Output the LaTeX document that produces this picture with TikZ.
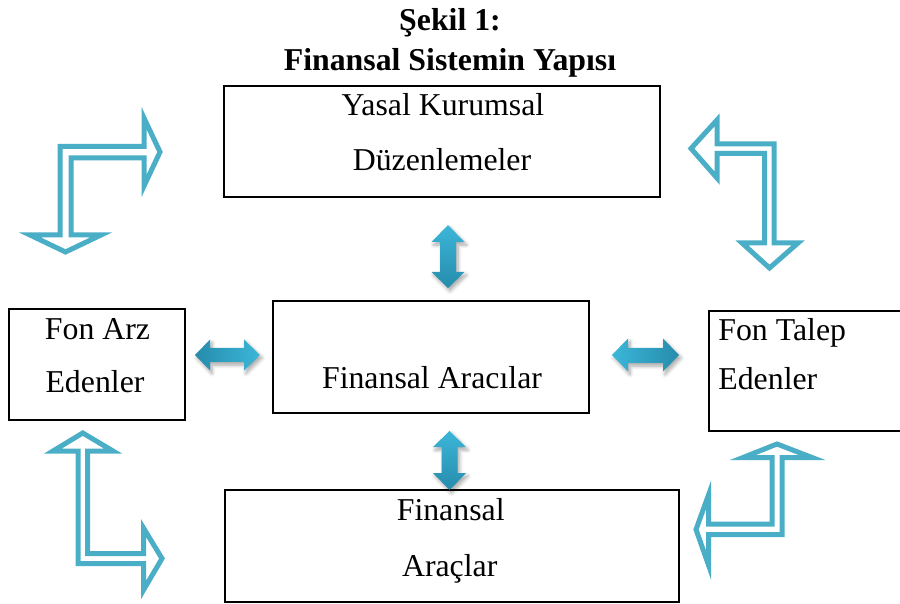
\documentclass[tikz,border=0pt]{standalone}
\usepackage{fontspec}
\setmainfont{Liberation Serif}
\usetikzlibrary{shadows.blur}
\definecolor{bentc}{RGB}{75,174,199}
\definecolor{lightc}{RGB}{60,182,216}
\definecolor{darkc}{RGB}{38,140,172}
\begin{document}
\begin{tikzpicture}[x=0.5pt,y=-0.5pt,
  box/.style={draw=black, line width=1pt, inner sep=0pt, outer sep=0pt},
  lbl/.style={font=\fontsize{15.9}{19}\selectfont, anchor=base, inner sep=0pt},
  ttl/.style={font=\fontsize{15.9}{19}\selectfont\bfseries, anchor=base, inner sep=0pt},
  bent/.style={draw=bentc, line width=2.5pt, line join=miter, fill=white},
  dbl/.style={blur shadow={shadow xshift=1pt, shadow yshift=-1.5pt, shadow blur steps=6, shadow opacity=35}},
]
\useasboundingbox (0,0) rectangle (900,604);

% boxes
\node[box, minimum width=218pt, minimum height=55.5pt] (kurum) at (442,141.5) {};
\node[box, minimum width=88pt, minimum height=55.5pt] (arz) at (97,364.5) {};
\node[box, minimum width=158pt, minimum height=56pt] (araci) at (431,357) {};
\node[box, minimum width=98pt, minimum height=60pt] (talep) at (807,371) {};
\node[box, minimum width=227pt, minimum height=56pt] (arac) at (452,546) {};

% texts
\node[ttl] (t1) at (450,31) {Şekil 1:};
\node[ttl] (t2) at (450,71) {Finansal Sistemin Yapısı};
\node[lbl] (k1) at (443,116) {Yasal Kurumsal};
\node[lbl] (k2) at (442,171) {Düzenlemeler};
\node[lbl] (l1) at (97.5,340) {Fon Arz};
\node[lbl] (l2) at (95,393) {Edenler};
\node[lbl] (c1) at (432,388) {Finansal Aracılar};
\node[lbl, anchor=base west] (r1) at (718,341) {Fon Talep};
\node[lbl, anchor=base west] (r2) at (718,390) {Edenler};
\node[lbl] (b1) at (450.7,520) {Finansal};
\node[lbl] (b2) at (449.7,576) {Araçlar};

% double arrows
\shade[dbl, left color=darkc, right color=lightc] (195,355) -- (210,339.5) -- (210,348) -- (244,348) -- (244,339.5) -- (260,355) -- (244,370.5) -- (244,362) -- (210,362) -- (210,370.5) -- cycle;
\shade[dbl, left color=lightc, right color=darkc] (612,355) -- (628,338.5) -- (628,348) -- (663,348) -- (663,338.5) -- (679,355) -- (663,371.5) -- (663,363) -- (628,363) -- (628,371.5) -- cycle;
\shade[dbl, top color=lightc, bottom color=darkc] (448,225) -- (464.5,242) -- (456,242) -- (456,272) -- (464.5,272) -- (448,288) -- (431.5,272) -- (440,272) -- (440,242) -- (431.5,242) -- cycle;
\shade[dbl, top color=lightc, bottom color=darkc] (449.5,431) -- (466,447) -- (457.5,447) -- (457.5,473) -- (466,473) -- (449.5,490) -- (433,473) -- (441.5,473) -- (441.5,447) -- (433,447) -- cycle;

% bent arrows
\draw[bent] (60,146.5) -- (144,146.5) -- (144,118) -- (160,152) -- (144,186) -- (144,158) -- (71,158) -- (71,235) -- (101,235) -- (65.5,252) -- (30,235) -- (60,235) -- cycle;
\draw[bent] (774,144) -- (717,144) -- (717,120) -- (691,148.5) -- (717,178) -- (717,153.5) -- (764.5,153.5) -- (764.5,243) -- (742,243) -- (769.5,268) -- (798,243) -- (774,243) -- cycle;
\draw[bent] (78,563.5) -- (78,451) -- (53,451) -- (82.75,433) -- (113,451) -- (87.5,451) -- (87.5,553.5) -- (143.5,553.5) -- (143.5,528) -- (162,558.5) -- (143.5,590) -- (143.5,563.5) -- cycle;
\draw[bent] (782,534.5) -- (708.5,534.5) -- (708.5,565) -- (696,529.5) -- (708.5,495) -- (708.5,524) -- (772,524) -- (772,457.5) -- (743,457.5) -- (777,444) -- (812,457.5) -- (782,457.5) -- cycle;
\end{tikzpicture}
\end{document}
